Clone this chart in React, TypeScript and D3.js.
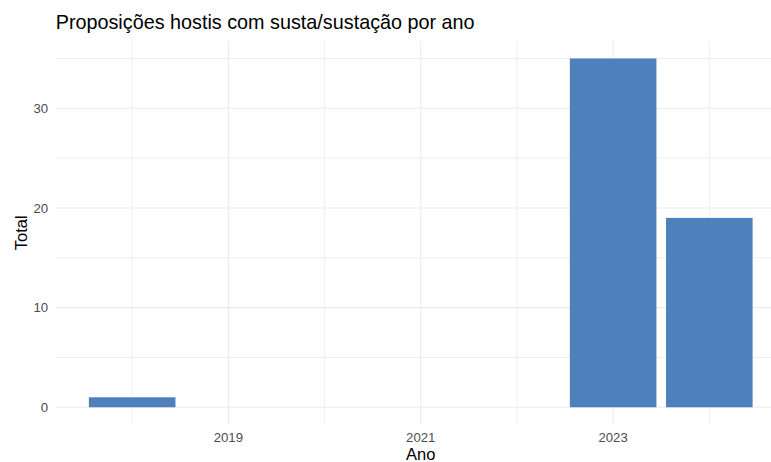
import React from 'react';
import * as d3 from 'd3';

const years = [2018, 2023, 2024];
const totals = [1, 35, 19];
const xMajor = [2019, 2021, 2023];
const xMinor = [2018, 2020, 2022, 2024];
const yMajor = [0, 10, 20, 30];
const yMinor = [5, 15, 25, 35];

const W = 771;
const H = 462;
const panel = { left: 55.7, right: 785.8, top: 41, bottom: 424.7 };
const barColor = '#4E80BC';
const gridColor = '#EBEBEB';
const font = 'Liberation Sans, Arial, sans-serif';

const App = () => {
  const xLo = d3.min(years)! - 0.45;
  const xHi = d3.max(years)! + 0.45;
  const xPad = (xHi - xLo) * 0.05;
  const x = d3.scaleLinear().domain([xLo - xPad, xHi + xPad]).range([panel.left, panel.right]);

  const yHi = d3.max(totals)!;
  const yPad = yHi * 0.05;
  const y = d3.scaleLinear().domain([-yPad, yHi + yPad]).range([panel.bottom, panel.top]);

  const bars = years.map((yr, i) => ({ year: yr, value: totals[i] }));

  return (
    <>
      <style>{'body{margin:0}'}</style>
      <svg width={W} height={H} style={{ display: 'block', background: '#fff' }} fontFamily={font}>
        {/* minor grid */}
        {yMinor.map(v => (
          <line key={'ym' + v} x1={panel.left} x2={panel.right} y1={y(v)} y2={y(v)} stroke={gridColor} strokeWidth={0.8} />
        ))}
        {xMinor.map(v => (
          <line key={'xm' + v} x1={x(v)} x2={x(v)} y1={panel.top} y2={panel.bottom} stroke={gridColor} strokeWidth={0.8} />
        ))}
        {/* major grid */}
        {yMajor.map(v => (
          <line key={'yM' + v} x1={panel.left} x2={panel.right} y1={y(v)} y2={y(v)} stroke={gridColor} strokeWidth={1.1} />
        ))}
        {xMajor.map(v => (
          <line key={'xM' + v} x1={x(v)} x2={x(v)} y1={panel.top} y2={panel.bottom} stroke={gridColor} strokeWidth={1.1} />
        ))}

        {bars.map(d => (
          <rect
            key={d.year}
            x={x(d.year - 0.45)}
            width={x(d.year + 0.45) - x(d.year - 0.45)}
            y={y(d.value)}
            height={y(0) - y(d.value)}
            fill={barColor}
          />
        ))}

        {/* y tick labels */}
        {yMajor.map(v => (
          <text key={'yt' + v} x={panel.left - 7.5} y={y(v)} dy="0.35em" textAnchor="end" fontSize={13.2} fill="#4D4D4D">
            {v}
          </text>
        ))}
        {/* x tick labels */}
        {xMajor.map(v => (
          <text key={'xt' + v} x={x(v)} y={441.5} textAnchor="middle" fontSize={13.2} fill="#4D4D4D">
            {v}
          </text>
        ))}

        <text x={(panel.left + panel.right) / 2} y={460} textAnchor="middle" fontSize={16.5} fill="#000">
          Ano
        </text>
        <text
          transform={`translate(27, ${(panel.top + panel.bottom) / 2}) rotate(-90)`}
          textAnchor="middle"
          fontSize={16.5}
          fill="#000"
        >
          Total
        </text>
        <text x={panel.left} y={29} fontSize={19.8} fill="#000">
          Proposições hostis com susta/sustação por ano
        </text>
      </svg>
    </>
  );
};

export default App;
